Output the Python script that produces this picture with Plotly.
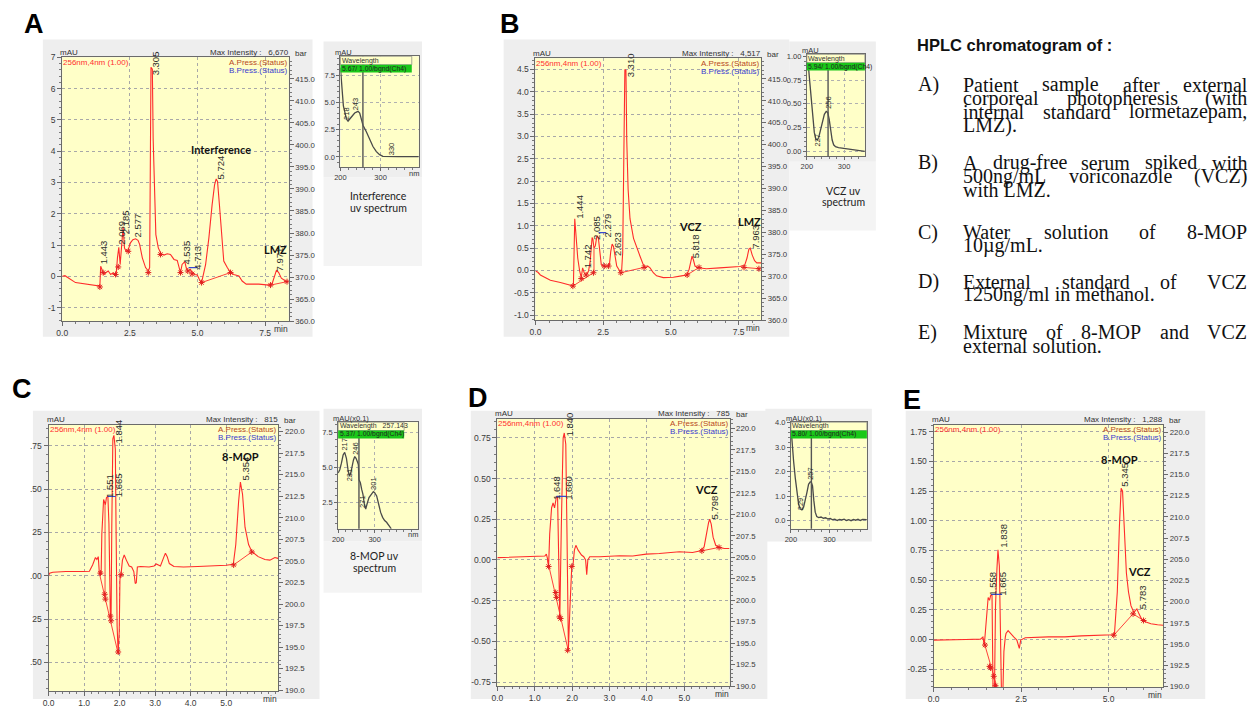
import plotly.graph_objects as go

# The page body has an 8px default margin; the figure is sized and offset so that
# reference pixel coordinates map onto the viewport.
OFF = 8
SHIFT = 3
W, H = 1256 - OFF, 708 - OFF

# ======================= DATA =======================
# --- Panel A: patient sample (time min, mAU) ---
A_trace = [(0.00,0.00),(0.10,0.02),(0.49,-0.20),(1.11,-0.28),(1.39,-0.31),(1.42,0.32),(1.48,0.17),(1.54,0.06),
           (1.63,0.13),(1.70,0.17),(1.79,0.06),(1.87,0.11),(1.95,0.04),(2.00,0.13),(2.04,0.59),(2.09,0.93),
           (2.14,0.38),(2.19,1.02),(2.25,1.58),(2.30,0.91),(2.36,0.80),(2.44,0.85),(2.52,1.07),(2.61,1.17),
           (2.71,1.20),(2.80,1.15),(2.86,1.02),(2.96,0.59),(3.08,0.28),(3.18,0.17),(3.23,0.28),(3.28,6.68),
           (3.33,6.62),(3.36,4.40),(3.41,2.29),(3.46,1.33),(3.55,0.91),(3.65,0.72),(3.76,0.68),(3.88,0.72),
           (4.00,0.70),(4.13,0.54),(4.25,0.51),(4.31,0.28),(4.37,0.12),(4.43,0.38),(4.53,0.47),(4.58,0.28),
           (4.64,0.17),(4.74,0.22),(4.80,0.12),(4.90,0.06),(4.99,0.04),(5.07,-0.10),(5.15,-0.20),(5.30,0.38),
           (5.42,1.23),(5.54,2.29),(5.63,2.92),(5.69,3.11),(5.74,3.03),(5.81,2.29),(5.89,1.23),(5.97,0.49),
           (6.10,0.28),(6.22,0.12),(6.34,0.06),(6.53,0.01),(6.65,-0.15),(6.80,-0.25),(7.27,-0.25),(7.64,-0.28),
           (7.76,-0.23),(7.84,0.01),(7.92,0.20),(8.00,0.12),(8.10,-0.06),(8.25,-0.15),(8.37,-0.17)]
A_peaks = ["1.443", "2.069", "2.185", "2.577", "3.305", "4.535", "4.713", "5.724", "7.971"]
A_peak_x = [1.54, 2.18, 2.34, 2.77, 3.45, 4.58, 4.99, 5.85, 8.03]
A_peak_y = [0.38, 1.02, 1.33, 1.25, 6.41, 0.38, 0.22, 3.08, 0.17]
A_names = ["Interference", "LMZ"]
A_name_x = [5.85, 7.88]
A_name_y = [4.05, 0.86]
A_marks = [(1.39,-0.34),(1.51,0.12),(1.97,0.06),(2.07,0.30),(2.44,0.80),(3.18,0.12),(3.63,0.70),(4.37,0.12),
           (4.64,0.17),(4.80,0.08),(5.15,-0.20),(6.22,0.12),(7.70,-0.28),(8.31,-0.17)]
A_baselines = [[(5.15,-0.20),(6.22,0.12)], [(7.70,-0.28),(8.31,-0.17)]]
A_blue = [(4.67,0.28),(4.99,0.28)]
A_max = "6,670"

# --- Panel B: drug-free serum spiked with VCZ + LMZ ---
B_trace = [(0.00,-0.01),(0.09,-0.04),(0.18,-0.10),(0.55,-0.22),(0.92,-0.27),(1.29,-0.32),(1.40,-0.35),(1.45,1.16),
           (1.48,0.95),(1.51,0.72),(1.56,0.28),(1.63,-0.01),(1.69,-0.16),(1.74,0.06),(1.80,-0.05),(1.87,-0.10),
           (1.96,-0.01),(2.02,0.21),(2.06,0.60),(2.09,0.74),(2.12,0.70),(2.16,0.50),(2.21,0.55),(2.27,0.78),
           (2.32,0.74),(2.37,0.43),(2.43,0.13),(2.49,0.10),(2.57,0.09),(2.66,0.10),(2.73,0.13),(2.78,0.43),
           (2.83,0.59),(2.88,0.54),(2.94,0.28),(3.00,0.10),(3.10,0.00),(3.18,-0.01),(3.22,0.40),(3.26,2.60),
           (3.30,4.50),(3.34,4.48),(3.37,2.92),(3.42,1.82),(3.49,1.16),(3.62,0.72),(3.74,0.50),(3.86,0.32),
           (3.98,0.13),(4.07,0.06),(4.14,0.10),(4.23,0.06),(4.35,-0.05),(4.47,-0.12),(4.72,-0.16),(5.09,-0.15),
           (5.39,-0.12),(5.58,-0.10),(5.67,0.02),(5.74,0.21),(5.78,0.32),(5.83,0.24),(5.89,0.10),(6.00,0.06),
           (6.31,0.04),(6.80,0.06),(7.17,0.07),(7.54,0.09),(7.72,0.11),(7.81,0.28),(7.88,0.48),(7.93,0.50),
           (8.00,0.35),(8.09,0.22),(8.17,0.17),(8.33,0.17)]
B_peaks = ["1.444", "1.742", "2.085", "2.279", "2.623", "3.310", "5.818", "7.963"]
B_peak_x = [1.65, 1.92, 2.23, 2.66, 3.00, 3.52, 5.94, 8.09]
B_peak_y = [1.16, 0.06, 0.68, 0.73, 0.32, 4.32, 0.28, 0.48]
B_names = ["VCZ", "LMZ"]
B_name_x = [5.74, 7.90]
B_name_y = [0.98, 1.10]
B_marks = [(1.38,-0.35),(1.69,-0.18),(1.87,-0.10),(2.14,-0.05),(2.54,0.10),(2.70,0.10),(3.15,-0.05),(4.01,0.07),
           (5.60,-0.10),(6.04,0.07),(7.70,0.07),(8.25,0.04)]
B_baselines = [[(1.38,-0.35),(2.14,-0.05)], [(2.16,0.50),(2.16,-0.05)], [(3.15,-0.05),(4.01,0.07)],
               [(5.60,-0.10),(6.04,0.07)], [(7.70,0.07),(8.25,0.04)]]
B_blue = [(2.33,0.85),(2.61,0.85)]
B_max = "4,517"

# --- Panel C: water solution of 8-MOP ---
C_trace = [(0.00,0.00),(0.03,0.015),(0.12,0.02),(0.49,0.024),(0.96,0.024),(1.15,0.026),(1.24,0.062),(1.32,0.105),
           (1.36,0.094),(1.40,0.11),(1.43,0.015),(1.48,0.006),(1.50,0.24),(1.53,0.43),(1.55,0.44),(1.60,0.41),
           (1.63,0.45),(1.67,0.46),(1.70,0.30),(1.74,-0.23),(1.76,-0.25),(1.78,0.28),(1.81,0.79),(1.84,0.81),
           (1.88,0.73),(1.90,0.28),(1.93,-0.29),(1.96,-0.45),(1.99,-0.32),(2.01,-0.02),(2.04,0.006),(2.08,0.09),
           (2.13,0.12),(2.19,0.09),(2.27,0.056),(2.34,0.05),(2.40,0.024),(2.44,-0.045),(2.47,-0.04),(2.50,0.05),
           (2.59,0.053),(2.83,0.05),(2.97,0.056),(3.03,0.068),(3.15,0.056),(3.25,0.11),(3.29,0.13),(3.34,0.11),
           (3.40,0.07),(3.53,0.053),(3.80,0.05),(4.20,0.053),(4.60,0.056),(5.00,0.06),(5.20,0.066),(5.27,0.18),
           (5.35,0.43),(5.40,0.54),(5.46,0.47),(5.53,0.28),(5.63,0.18),(5.72,0.14),(5.90,0.11),(6.09,0.094),
           (6.23,0.09),(6.37,0.105),(6.46,0.10)]
C_peaks = ["1.551", "1.665", "1.844", "5.354"]
C_peak_x = [1.71, 1.97, 1.97, 5.53]
C_peak_y = [0.45, 0.45, 0.76, 0.55]
C_names = ["8-MOP"]
C_name_x = [5.39]
C_name_y = [0.69]
C_marks = [(1.46,0.015),(1.58,-0.107),(1.60,-0.135),(1.74,-0.233),(1.76,-0.26),(1.96,-0.44),(2.04,0.006),
           (5.21,0.062),(5.72,0.137)]
C_baselines = [[(1.43,0.015),(1.96,-0.45)], [(1.59,0.42),(1.59,-0.12)], [(5.21,0.062),(5.72,0.137)]]
C_blue = [(1.66,0.457),(1.89,0.457)]
C_max = "815"

# --- Panel D: external standard of VCZ ---
D_trace = [(0.00,0.014),(0.34,0.016),(0.78,0.02),(1.14,0.02),(1.27,0.024),(1.31,0.036),(1.34,0.01),(1.37,-0.04),
           (1.40,0.16),(1.45,0.32),(1.49,0.35),(1.53,0.32),(1.55,0.34),(1.58,0.39),(1.61,0.39),(1.64,0.0),
           (1.67,-0.36),(1.71,0.20),(1.76,0.75),(1.79,0.78),(1.83,0.71),(1.86,0.20),(1.88,-0.54),(1.90,-0.55),
           (1.94,-0.30),(1.99,-0.04),(2.02,-0.04),(2.06,0.06),(2.10,0.09),(2.16,0.06),(2.25,0.03),(2.31,0.02),
           (2.36,0.0),(2.39,-0.09),(2.42,0.0),(2.47,0.02),(2.74,0.02),(3.27,0.026),(3.62,0.024),(3.98,0.036),
           (4.33,0.04),(4.78,0.048),(4.87,0.05),(5.22,0.046),(5.44,0.056),(5.53,0.08),(5.59,0.16),(5.65,0.23),
           (5.68,0.25),(5.72,0.22),(5.77,0.14),(5.84,0.09),(5.93,0.077),(6.07,0.07),(6.21,0.07)]
D_peaks = ["1.648", "1.660", "1.840", "5.798"]
D_peak_x = [1.60, 1.92, 1.92, 5.80]
D_peak_y = [0.37, 0.37, 0.76, 0.25]
D_names = ["VCZ"]
D_name_x = [5.59]
D_name_y = [0.43]
D_marks = [(1.37,-0.04),(1.56,-0.20),(1.58,-0.23),(1.66,-0.35),(1.69,-0.36),(1.88,-0.555),(1.99,-0.04),
           (5.47,0.056),(5.93,0.077)]
D_baselines = [[(1.34,0.0),(1.90,-0.56)], [(5.47,0.056),(5.93,0.077)]]
D_blue = [(1.58,0.39),(1.85,0.39)]
D_max = "785"

# --- Panel E: mixture of 8-MOP and VCZ ---
E_trace = [(0.00,-0.005),(0.44,0.0),(0.92,0.0),(1.34,0.003),(1.41,0.02),(1.45,-0.047),(1.48,0.064),(1.52,0.285),
           (1.56,0.354),(1.60,0.33),(1.63,0.37),(1.67,0.38),(1.70,-0.45),(1.74,-0.45),(1.77,0.28),(1.81,0.59),
           (1.84,0.755),(1.88,0.62),(1.91,0.12),(1.94,-0.45),(1.98,-0.45),(2.01,-0.10),(2.05,0.02),(2.07,0.05),
           (2.13,0.075),(2.19,0.058),(2.29,0.022),(2.38,-0.005),(2.45,-0.075),(2.49,-0.005),(2.62,0.014),
           (3.28,0.022),(3.75,0.022),(4.22,0.03),(4.70,0.036),(5.12,0.04),(5.17,0.05),(5.25,0.40),(5.31,0.95),
           (5.36,1.275),(5.40,1.25),(5.45,0.89),(5.51,0.56),(5.57,0.40),(5.64,0.285),(5.72,0.23),(5.76,0.243),
           (5.81,0.257),(5.87,0.216),(5.94,0.174),(6.07,0.147),(6.21,0.133),(6.40,0.124),(6.56,0.12)]
E_peaks = ["1.558", "1.665", "1.838", "5.345", "5.783"]
E_peak_x = [1.70, 1.96, 2.00, 5.45, 5.97]
E_peak_y = [0.37, 0.37, 0.77, 1.29, 0.26]
E_names = ["8-MOP", "VCZ"]
E_name_x = [5.31, 5.88]
E_name_y = [1.515, 0.57]
E_marks = [(1.47,-0.047),(1.60,-0.227),(1.63,-0.24),(1.72,-0.31),(1.77,-0.39),(5.15,0.036),(5.70,0.216),(6.00,0.16)]
E_baselines = [[(1.41,0.01),(1.86,-0.45)], [(5.15,0.036),(5.70,0.216),(6.00,0.16)]]
E_blue = [(1.65,0.38),(1.96,0.38)]
E_max = "1,288"

# --- UV spectra (nm, mAU) ---
SA_spec = [(200,8.2),(202.5,7.3),(205,5.8),(207.4,4.7),(210.7,4.1),(214.9,3.5),(219,3.28),(223,3.43),(227.3,3.67),
           (235.5,4.04),(243.8,4.19),(248,4.04),(252,3.52),(256.2,2.92),(264.5,2.32),(272.7,1.57),(281,0.96),
           (289,0.51),(297.5,0.21),(305.8,0.06),(318,0.03),(343,0.03),(367.8,0.03),(395,0.03)]
SA_labels = ["218", "243", "330"]
SA_label_x = [215, 238, 327]
SA_label_y = [3.4, 4.3, 0.15]
SB_spec = [(200,1.0),(204,0.9),(208,0.72),(212,0.52),(216,0.34),(220,0.2),(224,0.13),(228,0.12),(232,0.15),
           (237,0.24),(242,0.33),(247,0.39),(252,0.42),(256,0.41),(260,0.34),(264,0.22),(268,0.12),(272,0.07),
           (277,0.05),(285,0.04),(295,0.035),(305,0.025),(315,0.02),(325,0.015),(335,0.01),(345,0.005),(356,0.0)]
SB_labels = ["227", "256"]
SB_label_x = [228, 256]
SB_label_y = [0.05, 0.45]
SC_spec = [(200,4.59),(204.5,4.83),(209,5.29),(213.6,5.87),(218,6.06),(222.7,5.64),(227,4.83),(231,4.36),
           (234.5,4.59),(238,5.06),(242,5.52),(245.5,5.76),(249,5.64),(252.7,5.40),(255.5,5.17),(257,4.13),
           (260.9,3.90),(264.5,3.43),(268,3.08),(271.8,2.38),(275.5,2.03),(279,2.38),(284.5,2.85),(290.9,3.08),
           (296.4,3.27),(300,3.20),(305.5,2.97),(311,2.38),(316.4,1.80),(321.8,1.45),(327.3,1.22),(332.7,1.10),
           (338,0.87),(345.5,0.64)]
SC_labels = ["217", "231", "246", "271", "301"]
SC_label_x = [218, 231, 245.5, 266, 297]
SC_label_y = [6.2, 4.0, 5.9, 2.1, 3.4]
SD_spec = [(200,3.83),(202.6,3.22),(206.9,2.42),(211.2,1.74),(215.5,1.07),(219.8,0.67),(224.1,0.47),(228.4,0.43),
           (232.8,0.54),(237,0.80),(241.4,1.14),(245.7,1.48),(250,1.58),(252.6,1.58),(256,1.41),(259.5,0.80),
           (263,0.34),(267,0.16),(272,0.12),(278,0.14),(284,0.09),(290,0.11),(296,0.06),(302,0.08),(308,0.03),
           (314,0.05),(320,0.0),(326,0.04),(332,0.02),(338,0.05),(344,0.0),(350,0.03),(356,-0.01),(362,0.04),
           (368,0.01),(374,0.05),(380,0.0),(386,0.04),(392,0.02),(397,0.03)]
SD_labels = ["229", "257"]
SD_label_x = [225, 252]
SD_label_y = [0.42, 1.68]

# --- Text block ---
TITLE = "HPLC chromatogram of :"
ITEM_LABELS = ["A)", "B)", "C)", "D)", "E)"]
ITEM_LINES = [
    ["Patient sample after external", "corporeal photopheresis (with", "internal standard lormetazepam,", "LMZ)."],
    ["A drug-free serum spiked with", "500ng/mL voriconazole (VCZ)", "with LMZ."],
    ["Water solution of 8-MOP", "10µg/mL."],
    ["External standard of VCZ", "1250ng/ml in methanol."],
    ["Mixture of 8-MOP and VCZ", "external solution."],
]

# ======================= LAYOUT / STYLE =======================
RED = "#ff2b2b"
YELLOW = "#ffffc8"
FRAME = "#eeeeee"
FRAME_LIGHT = "#f4f4f4"
SANS = "Liberation Sans, Arial, sans-serif"
SERIF = "Liberation Serif, Times New Roman, serif"
BOLD = "Lato, Liberation Sans, sans-serif"
TICK_FONT = dict(family=SANS, size=8.5, color="#3a3a3a")
RTICK_FONT = dict(family=SANS, size=7.8, color="#3a3a3a")
TICK_FONT_S = dict(family=SANS, size=7.5, color="#3a3a3a")

def px(x):
    return (x - OFF - SHIFT) / W

def py(y):
    return 1 - (y - OFF - SHIFT) / H

def xn(i):
    return "xaxis" if i == 1 else f"xaxis{i}"

def yn(i):
    return "yaxis" if i == 1 else f"yaxis{i}"

def xr_(i):
    return "x" if i == 1 else f"x{i}"

def yr_(i):
    return "y" if i == 1 else f"y{i}"

fig = go.Figure()
layout = dict(width=W, height=H, margin=dict(l=0, r=0, t=0, b=0), paper_bgcolor="white",
              plot_bgcolor="rgba(0,0,0,0)", showlegend=False)
shapes = []
annotations = []

def rect(x0, y0, x1, y1, fill, line=None, layer="below"):
    shapes.append(dict(type="rect", xref="paper", yref="paper", x0=px(x0), x1=px(x1), y0=py(y1), y1=py(y0),
                       fillcolor=fill, line=dict(width=0) if line is None else line, layer=layer))

def ptext(x, y, text, size=8, color="#333", family=SANS, xanchor="left", yanchor="middle", **kw):
    annotations.append(dict(xref="paper", yref="paper", x=px(x), y=py(y), text=text, showarrow=False,
                            xanchor=xanchor, yanchor=yanchor, font=dict(size=size, color=color, family=family),
                            borderpad=0, borderwidth=0, **kw))

def axis_common(font=TICK_FONT, ticklen=4):
    return dict(showline=True, linecolor="#6a6a6a", linewidth=1, ticks="outside", ticklen=ticklen,
                tickcolor="#6a6a6a", tickwidth=1, zeroline=False, tickfont=font, fixedrange=True)

# frames (grey) drawn first, then yellow plot areas
FRAMES = [(40, 38, 311, 340, FRAME), (322, 40, 421, 178, FRAME), (322, 178, 421, 268, FRAME_LIGHT),
          (503, 38, 790, 340, FRAME), (790, 40, 877, 162, FRAME), (790, 162, 877, 232, FRAME_LIGHT),
          (30, 415, 318, 708, FRAME), (322, 413, 421, 548, FRAME), (322, 548, 421, 600, FRAME_LIGHT),
          (470, 415, 768, 708, FRAME), (766, 413, 873, 548, FRAME),
          (907, 415, 1208, 708, FRAME)]
for f in FRAMES:
    rect(*f)

PANELS = [
    dict(box=(59.5, 56, 287, 324), xr=[0, 8.37], yr=[-1.43, 7.0],
         xt=[0, 2.5, 5, 7.5], xtt=["0.0", "2.5", "5.0", "7.5"],
         yt=[-1, 0, 1, 2, 3, 4, 5, 6, 7], ytt=["-1", "0", "1", "2", "3", "4", "5", "6", "7"],
         rr=[360, 419.9], rt=[360 + 5 * i for i in range(12)], xm=0.5, ym=0.2, rm=1),
    dict(box=(535, 57, 761.7, 323), xr=[0, 8.33], yr=[-1.11, 4.75],
         xt=[0, 2.5, 5, 7.5], xtt=["0.0", "2.5", "5.0", "7.5"],
         yt=[-1 + 0.5 * i for i in range(12)],
         ytt=["-1.0", "-0.5", "0.0", "0.5", "1.0", "1.5", "2.0", "2.5", "3.0", "3.5", "4.0", "4.5"],
         rr=[360, 419.7], rt=[360 + 5 * i for i in range(12)], xm=0.5, ym=0.1, rm=1),
    dict(box=(45.7, 429.3, 276.7, 700), xr=[0, 6.47], yr=[-0.666, 0.871],
         xt=[0, 1, 2, 3, 4, 5], xtt=["0.0", "1.0", "2.0", "3.0", "4.0", "5.0"],
         yt=[-0.5, -0.25, 0, 0.25, 0.5, 0.75], ytt=[".50", "25", ".00", "25", ".50", ".75"],
         rr=[189.9, 220.8], rt=[190 + 2.5 * i for i in range(13)], xm=0.2, ym=0.05, rm=0.5),
    dict(box=(496.7, 423.3, 730, 695), xr=[0, 6.21], yr=[-0.776, 0.867],
         xt=[0, 1, 2, 3, 4, 5], xtt=["0.0", "1.0", "2.0", "3.0", "4.0", "5.0"],
         yt=[-0.75, -0.5, -0.25, 0, 0.25, 0.5, 0.75],
         ytt=["-0.75", "-0.50", "-0.25", "0.00", "0.25", "0.50", "0.75"],
         rr=[190.0, 221.1], rt=[190 + 2.5 * i for i in range(13)], xm=0.2, ym=0.05, rm=0.5),
    dict(box=(935, 429.3, 1165.7, 695.7), xr=[0, 6.56], yr=[-0.40, 1.81],
         xt=[0, 2.5, 5], xtt=["0.0", "2.5", "5.0"],
         yt=[-0.25 + 0.25 * i for i in range(9)],
         ytt=["-0.25", "0.00", "0.25", "0.50", "0.75", "1.00", "1.25", "1.50", "1.75"],
         rr=[189.95, 220.86], rt=[190 + 2.5 * i for i in range(13)], xm=0.5, ym=0.05, rm=0.5),
]
PANEL_DATA = [
    (A_trace, A_peaks, A_peak_x, A_peak_y, A_names, A_name_x, A_name_y, A_marks, A_baselines, A_blue, A_max),
    (B_trace, B_peaks, B_peak_x, B_peak_y, B_names, B_name_x, B_name_y, B_marks, B_baselines, B_blue, B_max),
    (C_trace, C_peaks, C_peak_x, C_peak_y, C_names, C_name_x, C_name_y, C_marks, C_baselines, C_blue, C_max),
    (D_trace, D_peaks, D_peak_x, D_peak_y, D_names, D_name_x, D_name_y, D_marks, D_baselines, D_blue, D_max),
    (E_trace, E_peaks, E_peak_x, E_peak_y, E_names, E_name_x, E_name_y, E_marks, E_baselines, E_blue, E_max),
]

for k, (cfg, data) in enumerate(zip(PANELS, PANEL_DATA)):
    trace, pk, pkx, pky, nm, nmx, nmy, marks, bases, blue, mx = data
    xi, yl, yrt = k + 1, 2 * k + 1, 2 * k + 2
    L, T, R, B = cfg["box"]
    rect(L, T, R, B, YELLOW)
    layout[xn(xi)] = dict(domain=[px(L), px(R)], anchor=yr_(yl), range=cfg["xr"], tickmode="array",
                          tickvals=cfg["xt"], ticktext=cfg["xtt"], mirror=True, showgrid=True,
                          gridcolor="#a8a8a8", griddash="dot", gridwidth=1,
                          minor=dict(tickmode="linear", tick0=0, dtick=cfg["xm"], ticks="outside", ticklen=2,
                                     tickcolor="#7a7a7a", showgrid=False),
                          **axis_common())
    layout[yn(yl)] = dict(domain=[py(B), py(T)], anchor=xr_(xi), range=cfg["yr"], tickmode="array",
                          tickvals=cfg["yt"], ticktext=cfg["ytt"], showgrid=True, gridcolor="#a8a8a8",
                          griddash="dot", gridwidth=1,
                          minor=dict(tickmode="linear", tick0=0, dtick=cfg["ym"], ticks="outside", ticklen=2,
                                     tickcolor="#7a7a7a", showgrid=False),
                          **axis_common())
    layout[yn(yrt)] = dict(anchor=xr_(xi), overlaying=yr_(yl), side="right", range=cfg["rr"], tickmode="array",
                           tickvals=cfg["rt"], ticktext=[f"{v:.1f}" for v in cfg["rt"]], showgrid=False,
                           minor=dict(tickmode="linear", tick0=0, dtick=cfg["rm"], ticks="outside", ticklen=2,
                                      tickcolor="#7a7a7a"),
                           **axis_common(RTICK_FONT))
    # pressure axis placeholder trace (no data drawn)
    fig.add_trace(go.Scatter(x=[None], y=[None], xaxis=xr_(xi), yaxis=yr_(yrt), hoverinfo="skip"))
    # baselines
    for seg in bases:
        fig.add_trace(go.Scatter(x=[p[0] for p in seg], y=[p[1] for p in seg], mode="lines",
                                 line=dict(color=RED, width=0.9), xaxis=xr_(xi), yaxis=yr_(yl), hoverinfo="skip"))
    # main chromatogram
    fig.add_trace(go.Scatter(x=[p[0] for p in trace], y=[p[1] for p in trace], mode="lines",
                             line=dict(color=RED, width=1.1), xaxis=xr_(xi), yaxis=yr_(yl), hoverinfo="skip"))
    # integration marks
    fig.add_trace(go.Scatter(x=[p[0] for p in marks], y=[p[1] for p in marks], mode="markers",
                             marker=dict(symbol="asterisk-open", size=5, color="#e02020", line=dict(width=1)),
                             xaxis=xr_(xi), yaxis=yr_(yl), hoverinfo="skip"))
    fig.add_trace(go.Scatter(x=[p[0] for p in blue], y=[p[1] for p in blue], mode="lines",
                             line=dict(color="#3848d0", width=1.2), xaxis=xr_(xi), yaxis=yr_(yl),
                             hoverinfo="skip"))
    for t, x, y in zip(pk, pkx, pky):
        annotations.append(dict(xref=xr_(xi), yref=yr_(yl), x=x, y=y, text=t, showarrow=False, textangle=-90,
                                xanchor="center", yanchor="bottom", borderpad=0, borderwidth=0,
                                font=dict(family=SANS, size=9.5, color="#2e2e2e")))
    for t, x, y in zip(nm, nmx, nmy):
        annotations.append(dict(xref=xr_(xi), yref=yr_(yl), x=x, y=y, text=f"<b>{t}</b>", showarrow=False,
                                xanchor="center", yanchor="middle",
                                font=dict(family=BOLD, size=11, color="#111")))
    # header texts
    ptext(L - 2, T - 5, "mAU", size=8)
    ptext(R, T - 5, f"Max Intensity :   {mx}", size=8, xanchor="right")
    ptext(R + 6, T - 4, "bar", size=8)
    ptext(L + 1, T + 5, "256nm,4nm (1.00)", size=8, color="#ff3030")
    ptext(R - 1, T + 5, "A.Press.(Status)", size=8, color="#b8481c", xanchor="right")
    ptext(R - 1, T + 13, "B.Press.(Status)", size=8, color="#3a3ad0", xanchor="right")
    ptext(R - 8, B + 8, "min", size=8.5, xanchor="center")

# ---------------- insets ----------------
INSETS = [
    dict(box=(339, 55, 417.7, 167.7), xr=[200, 395], yr=[-0.94, 9.24], yt=[0, 2.5, 5, 7.5],
         ytt=["0.0", "2.5", "5.0", "7.5"], ym=0.5, head="Wavelength", green="5.67/ 1.00/bgnd(Ch4)",
         gx1=410.7, ylab="mAU", cursor=256, nm=True, cap=["Interference", "uv spectrum"], capx=377, capy=[197, 209]),
    dict(box=(807.7, 53, 866, 156.7), xr=[200, 356], yr=[-0.052, 1.02], yt=[0, 0.25, 0.5, 0.75, 1.0],
         ytt=["0.00", "0.25", "0.50", "0.75", "1.00"], ym=0.05, head="Wavelength", green="5.94/ 1.00/bgnd(Ch4)",
         gx1=866, ylab="mAU", cursor=257, nm=False, cap=["VCZ uv", "spectrum"], capx=845, capy=[192, 203.5]),
    dict(box=(336.7, 426.7, 416.7, 535), xr=[200, 418], yr=[0.64, 8.2], yt=[2.5, 5, 7.5],
         ytt=["2.5", "5.0", "7.5"], ym=0.5, head="Wavelength   257.143", green="5.37/ 1.00/bgnd(Ch4)",
         gx1=403, ylab="mAU(x0.1)", cursor=257, nm=True, cap=["8-MOP uv", "spectrum"], capx=373, capy=[563, 575]),
    dict(box=(791.7, 426.7, 868, 535), xr=[200, 397], yr=[-0.34, 4.02], yt=[0, 1, 2, 3, 4],
         ytt=["0.0", "1.0", "2.0", "3.0", "4.0"], ym=0.2, head="Wavelength", green="5.80/ 1.00/bgnd(Ch4)",
         gx1=868, ylab="mAU(x0.1)", cursor=253, nm=False, cap=None, capx=0, capy=[]),
]
INSET_DATA = [(SA_spec, SA_labels, SA_label_x, SA_label_y), (SB_spec, SB_labels, SB_label_x, SB_label_y),
              (SC_spec, SC_labels, SC_label_x, SC_label_y), (SD_spec, SD_labels, SD_label_x, SD_label_y)]

for j, (cfg, data) in enumerate(zip(INSETS, INSET_DATA)):
    spec, labs, lx, ly = data
    xi, yi = 6 + j, 11 + j
    L, T, R, B = cfg["box"]
    rect(L, T, R, B, YELLOW)
    layout[xn(xi)] = dict(domain=[px(L), px(R)], anchor=yr_(yi), range=cfg["xr"], tickmode="array",
                          tickvals=[200, 300], ticktext=["200", "300"], mirror=True, showgrid=True,
                          gridcolor="#b0b0b0", griddash="dot",
                          minor=dict(tickmode="linear", tick0=200, dtick=20, ticks="outside", ticklen=2,
                                     tickcolor="#7a7a7a", showgrid=False),
                          **axis_common(TICK_FONT_S, 3))
    layout[yn(yi)] = dict(domain=[py(B), py(T)], anchor=xr_(xi), range=cfg["yr"], tickmode="array",
                          tickvals=cfg["yt"], ticktext=cfg["ytt"], mirror=True, showgrid=True,
                          gridcolor="#b0b0b0", griddash="dot",
                          minor=dict(tickmode="linear", tick0=0, dtick=cfg["ym"], ticks="outside", ticklen=2,
                                     tickcolor="#7a7a7a", showgrid=False),
                          **axis_common(TICK_FONT_S, 3))
    fig.add_trace(go.Scatter(x=[p[0] for p in spec], y=[p[1] for p in spec], mode="lines",
                             line=dict(color="#4a4a4a", width=1.3), xaxis=xr_(xi), yaxis=yr_(yi),
                             hoverinfo="skip"))
    shapes.append(dict(type="line", xref=xr_(xi), yref=f"{yr_(yi)} domain", x0=cfg["cursor"], x1=cfg["cursor"],
                       y0=0, y1=1, line=dict(color="#555555", width=1.4), layer="above"))
    for t, x, y in zip(labs, lx, ly):
        annotations.append(dict(xref=xr_(xi), yref=yr_(yi), x=x, y=y, text=t, showarrow=False, textangle=-90,
                                xanchor="center", yanchor="bottom", borderpad=0, borderwidth=0,
                                font=dict(family=SANS, size=7.5, color="#2e2e2e")))
    # header rows
    rect(L, T, cfg["gx1"], T + 8.5, YELLOW, line=dict(color="#808080", width=0.7), layer="above")
    rect(L, T + 8.5, cfg["gx1"], T + 16.5, "#19c819", layer="above")
    ptext(L + 1.5, T + 4.3, cfg["head"], size=7, color="#333")
    ptext(L + 1.5, T + 12.5, cfg["green"], size=6.8, color="#222")
    ptext(L - 5, T - 4, cfg["ylab"], size=7.5, color="#333")
    if cfg["nm"]:
        ptext(R - 5, B + 6, "nm", size=7.5, color="#333", xanchor="center")
    if cfg["cap"]:
        for line, cy in zip(cfg["cap"], cfg["capy"]):
            ptext(cfg["capx"], cy, line, size=10.5, color="#222", family="Lato, Liberation Sans, sans-serif",
                  xanchor="center")

# ---------------- panel letters ----------------
for letter, lx_, ly_ in [("A", 31, 22), ("B", 509, 22), ("C", 19, 393), ("D", 477, 402), ("E", 913, 404)]:
    ptext(lx_, ly_, f"<b>{letter}</b>", size=27, color="#000", family=SANS, xanchor="center")

# ---------------- right text block ----------------
TIMES_W = {" ": 250, "a": 444, "b": 500, "c": 444, "d": 500, "e": 444, "f": 333, "g": 500, "h": 500, "i": 278,
           "j": 278, "k": 500, "l": 278, "m": 778, "n": 500, "o": 500, "p": 500, "q": 500, "r": 333, "s": 389,
           "t": 278, "u": 500, "v": 500, "w": 722, "x": 500, "y": 500, "z": 444, "A": 722, "B": 667, "C": 667,
           "D": 722, "E": 611, "F": 556, "G": 722, "H": 722, "I": 333, "J": 389, "K": 722, "L": 611, "M": 889,
           "N": 722, "O": 722, "P": 556, "Q": 722, "R": 667, "S": 556, "T": 611, "U": 722, "V": 722, "W": 944,
           "X": 722, "Y": 722, "Z": 611, ".": 250, ",": 250, "(": 333, ")": 333, "/": 278, "-": 333, "µ": 500,
           ":": 278}

def tw(s, size):
    return sum(TIMES_W.get(c, 500) for c in s) * size / 1000.0

BODY = 20
TX0, TX1, LX = 965, 1250, 919
ITEM_YS = [[84, 98, 111.5, 125], [163, 177, 190.5], [233.5, 247], [284, 297.5], [335.5, 349]]

ptext(918, 44, f"<b>{TITLE}</b>", size=16.5, color="#111", family=SANS)
for lab, lines, ys in zip(ITEM_LABELS, ITEM_LINES, ITEM_YS):
    ptext(LX, ys[0], lab, size=BODY, color="#111", family=SERIF)
    for i, (line, y) in enumerate(zip(lines, ys)):
        words = line.split(" ")
        if i == len(lines) - 1 or len(words) == 1:
            ptext(TX0, y, line, size=BODY, color="#111", family=SERIF)
            continue
        total = sum(tw(w, BODY) for w in words)
        gap = (TX1 - TX0 - total) / (len(words) - 1)
        x = TX0
        for w in words:
            ptext(x, y, w, size=BODY, color="#111", family=SERIF)
            x += tw(w, BODY) + gap

layout["shapes"] = shapes
layout["annotations"] = annotations
fig.update_layout(**layout)
fig.write_html("out.html")
